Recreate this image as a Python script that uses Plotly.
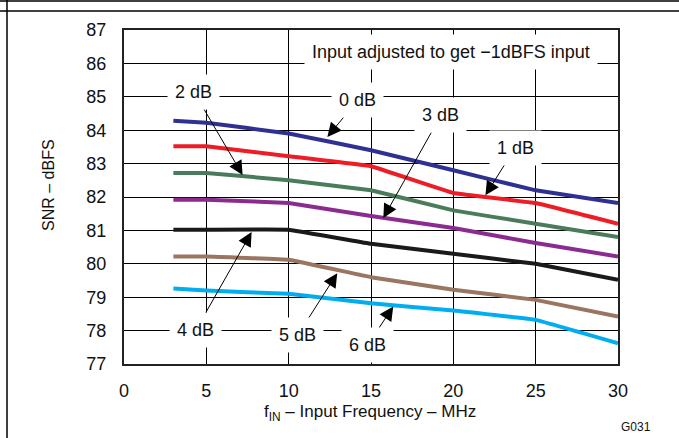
import plotly.graph_objects as go

freq = [3, 5, 10, 15, 20, 25, 30]
snr_0db = [84.28, 84.22, 83.9, 83.4, 82.8, 82.2, 81.82]
snr_1db = [83.52, 83.52, 83.22, 82.92, 82.12, 81.82, 81.2]
snr_2db = [82.72, 82.72, 82.5, 82.2, 81.6, 81.2, 80.8]
snr_3db = [81.92, 81.92, 81.82, 81.43, 81.07, 80.62, 80.22]
snr_4db = [81.02, 81.02, 81.02, 80.6, 80.3, 80.0, 79.52]
snr_5db = [80.22, 80.22, 80.12, 79.6, 79.22, 78.92, 78.42]
snr_6db = [79.26, 79.2, 79.1, 78.82, 78.6, 78.32, 77.62]

series = [
    ("0 dB", snr_0db, "#2e3192"),
    ("1 dB", snr_1db, "#ee1c25"),
    ("2 dB", snr_2db, "#4a7c5c"),
    ("3 dB", snr_3db, "#8c2b8f"),
    ("4 dB", snr_4db, "#1a1a1a"),
    ("5 dB", snr_5db, "#9a7560"),
    ("6 dB", snr_6db, "#00aeef"),
]

# label text position (tx, ty) and arrow tip (px, py) in data units
labels = [
    ("2 dB", 4.25, 85.14, 7.2, 82.66),
    ("0 dB", 14.2, 84.9, 12.35, 83.8),
    ("3 dB", 19.25, 84.45, 15.75, 81.37),
    ("1 dB", 23.75, 83.47, 21.95, 82.05),
    ("4 dB", 4.37, 78.02, 7.75, 80.95),
    ("5 dB", 10.56, 77.87, 12.95, 79.72),
    ("6 dB", 14.8, 77.57, 16.35, 78.72),
]

FONT = "Liberation Sans, Arial, sans-serif"
PW, PH = 494, 334  # plot area size in px

fig = go.Figure()
for name, vals, col in series:
    fig.add_trace(go.Scatter(x=freq, y=vals, mode="lines", name=name,
                             line=dict(color=col, width=4, shape="spline", smoothing=0.15),
                             showlegend=False))

for txt, tx, ty, px, py in labels:
    fig.add_annotation(x=px, y=py, ax=tx, ay=ty, xref="x", yref="y", axref="x", ayref="y",
                       text=txt, showarrow=True, arrowhead=2, arrowsize=2.8, arrowwidth=1,
                       arrowcolor="black", bgcolor="white", borderpad=7,
                       font=dict(family=FONT, size=18, color="#111"))

fig.add_annotation(x=19.85, y=86.34, xref="x", yref="y", text="Input adjusted to get \u22121dBFS input",
                   showarrow=False, bgcolor="white", borderpad=7,
                   font=dict(family=FONT, size=18, color="#111"))

fig.add_annotation(x=(636 - 124) / PW, y=-(427 - 364) / PH, xref="paper", yref="paper",
                   text="G031", showarrow=False, xanchor="center", yanchor="middle",
                   font=dict(family=FONT, size=12, color="#111"))

fig.add_annotation(x=(370 - 124) / PW, y=-(413 - 364) / PH, xref="paper", yref="paper",
                   text="f<sub>IN</sub> \u2013 Input Frequency \u2013 MHz", showarrow=False,
                   xanchor="center", yanchor="middle",
                   font=dict(family=FONT, size=17, color="#111"))

fig.add_annotation(x=(48 - 124) / PW, y=(364 - 185) / PH, xref="paper", yref="paper",
                   text="SNR \u2013 dBFS", showarrow=False, textangle=-90,
                   xanchor="center", yanchor="middle",
                   font=dict(family=FONT, size=16, color="#111"))

# page frame lines
for shp in [
    dict(x0=-0.3, x1=1.2, y0=1 + 29 / PH, y1=1 + 29 / PH),
    dict(x0=-0.3, x1=1.2, y0=1 + 19 / PH, y1=1 + 19 / PH),
    dict(x0=(7 - 124) / PW, x1=(7 - 124) / PW, y0=-0.25, y1=1 + 30 / PH),
]:
    fig.add_shape(type="line", xref="paper", yref="paper", line=dict(color="black", width=1.5), **shp)

fig.update_xaxes(range=[0, 30], dtick=5, tick0=0, showgrid=True, gridcolor="black", gridwidth=1,
                 showline=True, linecolor="#222", linewidth=2, mirror=True, ticks="",
                 ticklabelstandoff=9, zeroline=False,
                 tickfont=dict(family=FONT, size=18, color="#111"))
fig.update_yaxes(range=[77, 87], dtick=1, tick0=77, showgrid=True, gridcolor="black", gridwidth=1,
                 showline=True, linecolor="#222", linewidth=2, mirror=True, ticks="",
                 ticklabelstandoff=12, zeroline=False,
                 tickfont=dict(family=FONT, size=18, color="#111"))

fig.update_layout(width=679, height=438, margin=dict(l=124, r=61, t=30, b=74),
                  plot_bgcolor="white", paper_bgcolor="white")

fig.write_html("out.html", config={"displayModeBar": False},
               post_script="document.body.style.margin='0px';")
